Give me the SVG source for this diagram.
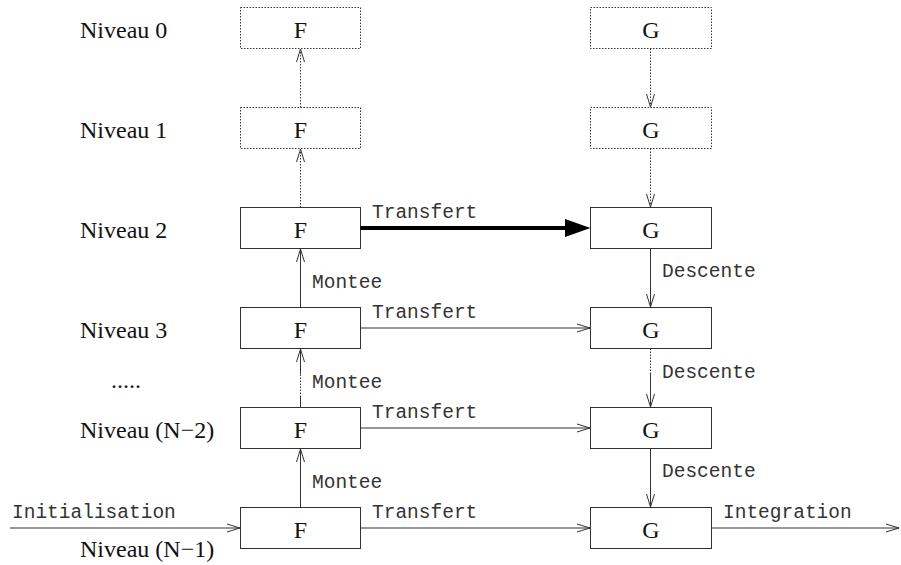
<svg xmlns="http://www.w3.org/2000/svg" width="901" height="565" viewBox="0 0 901 565">
<style>
.bg{fill:#fff}
.box{fill:#fff;stroke:#333;stroke-width:1}
.dot{stroke-dasharray:1.5 1.5}
.ln{fill:none;stroke:#333;stroke-width:1}
.lbl{font-family:"Liberation Serif","Times New Roman",serif;font-size:24px;fill:#111}
.nt{font-family:"Liberation Serif","Times New Roman",serif;font-size:24px;fill:#111;text-anchor:middle}
.cl{font-family:"Liberation Mono","Courier New",monospace;font-size:19.5px;fill:#333}
</style>
<defs>
<marker id="open" markerUnits="userSpaceOnUse" markerWidth="16" markerHeight="12" viewBox="-14 -6 16 12" refX="0" refY="0" orient="auto" overflow="visible">
<path d="M-13,-4 L0,0 L-13,4" fill="none" stroke="#333" stroke-width="1"/>
</marker>
</defs>
<rect class="bg" width="901" height="565"/>
<g id="labels">
<text class="lbl" x="80" y="37.5">Niveau 0</text>
<text class="lbl" x="80" y="137.5">Niveau 1</text>
<text class="lbl" x="80" y="237.5">Niveau 2</text>
<text class="lbl" x="80" y="337.5">Niveau 3</text>
<text class="lbl" x="111" y="388">.....</text>
<text class="lbl" x="80" y="437.5">Niveau (N−2)</text>
<text class="lbl" x="80" y="557">Niveau (N−1)</text>
</g>
<g id="F0"><rect class="box dot" x="240.5" y="7.5" width="120" height="41"/><text class="nt" x="300.5" y="37.5">F</text></g>
<g id="F1"><rect class="box dot" x="240.5" y="107.5" width="120" height="41"/><text class="nt" x="300.5" y="137.5">F</text></g>
<g id="F2"><rect class="box" x="240.5" y="207.5" width="120" height="41"/><text class="nt" x="300.5" y="237.5">F</text></g>
<g id="F3"><rect class="box" x="240.5" y="307.5" width="120" height="41"/><text class="nt" x="300.5" y="337.5">F</text></g>
<g id="FN2"><rect class="box" x="240.5" y="407.5" width="120" height="41"/><text class="nt" x="300.5" y="437.5">F</text></g>
<g id="FN1"><rect class="box" x="240.5" y="507.5" width="120" height="41"/><text class="nt" x="300.5" y="537.5">F</text></g>
<g id="G0"><rect class="box dot" x="590.5" y="7.5" width="121" height="41"/><text class="nt" x="651" y="37.5">G</text></g>
<g id="G1"><rect class="box dot" x="590.5" y="107.5" width="121" height="41"/><text class="nt" x="651" y="137.5">G</text></g>
<g id="G2"><rect class="box" x="590.5" y="207.5" width="121" height="41"/><text class="nt" x="651" y="237.5">G</text></g>
<g id="G3"><rect class="box" x="590.5" y="307.5" width="121" height="41"/><text class="nt" x="651" y="337.5">G</text></g>
<g id="GN2"><rect class="box" x="590.5" y="407.5" width="121" height="41"/><text class="nt" x="651" y="437.5">G</text></g>
<g id="GN1"><rect class="box" x="590.5" y="507.5" width="121" height="41"/><text class="nt" x="651" y="537.5">G</text></g>
<g id="connectors">
<line class="ln dot" x1="300.5" y1="107.5" x2="300.5" y2="49" marker-end="url(#open)"/>
<line class="ln dot" x1="300.5" y1="207.5" x2="300.5" y2="149" marker-end="url(#open)"/>
<line class="ln dot" x1="650.5" y1="48.5" x2="650.5" y2="107" marker-end="url(#open)"/>
<line class="ln dot" x1="650.5" y1="148.5" x2="650.5" y2="207" marker-end="url(#open)"/>
<line class="ln" x1="300.5" y1="307.5" x2="300.5" y2="249" marker-end="url(#open)"/>
<line class="ln" x1="300.5" y1="407.5" x2="300.5" y2="397"/>
<line class="ln dot" x1="300.5" y1="397" x2="300.5" y2="374"/>
<line class="ln" x1="300.5" y1="374" x2="300.5" y2="349" marker-end="url(#open)"/>
<line class="ln" x1="300.5" y1="507.5" x2="300.5" y2="449" marker-end="url(#open)"/>
<line class="ln" x1="650.5" y1="248.5" x2="650.5" y2="307" marker-end="url(#open)"/>
<line class="ln dot" x1="650.5" y1="348.5" x2="650.5" y2="373"/>
<line class="ln" x1="650.5" y1="373" x2="650.5" y2="407" marker-end="url(#open)"/>
<line class="ln" x1="650.5" y1="448.5" x2="650.5" y2="507" marker-end="url(#open)"/>
<line x1="360.5" y1="228" x2="566" y2="228" stroke="#000" stroke-width="4"/>
<polygon points="565,219 590.5,228 565,237" fill="#000"/>
<line class="ln" x1="360.5" y1="328" x2="590" y2="328" marker-end="url(#open)"/>
<line class="ln" x1="360.5" y1="428" x2="590" y2="428" marker-end="url(#open)"/>
<line class="ln" x1="360.5" y1="528" x2="590" y2="528" marker-end="url(#open)"/>
<line class="ln" x1="10" y1="528" x2="240" y2="528" marker-end="url(#open)"/>
<line class="ln" x1="711.5" y1="528" x2="899" y2="528" marker-end="url(#open)"/>
<text class="cl" x="372" y="218">Transfert</text>
<text class="cl" x="372" y="318">Transfert</text>
<text class="cl" x="372" y="418">Transfert</text>
<text class="cl" x="372" y="518">Transfert</text>
<text class="cl" x="312" y="288">Montee</text>
<text class="cl" x="312" y="388">Montee</text>
<text class="cl" x="312" y="488">Montee</text>
<text class="cl" x="662" y="277">Descente</text>
<text class="cl" x="662" y="378">Descente</text>
<text class="cl" x="662" y="477">Descente</text>
<text class="cl" x="12" y="518">Initialisation</text>
<text class="cl" x="723" y="518">Integration</text>
</g>
</svg>
